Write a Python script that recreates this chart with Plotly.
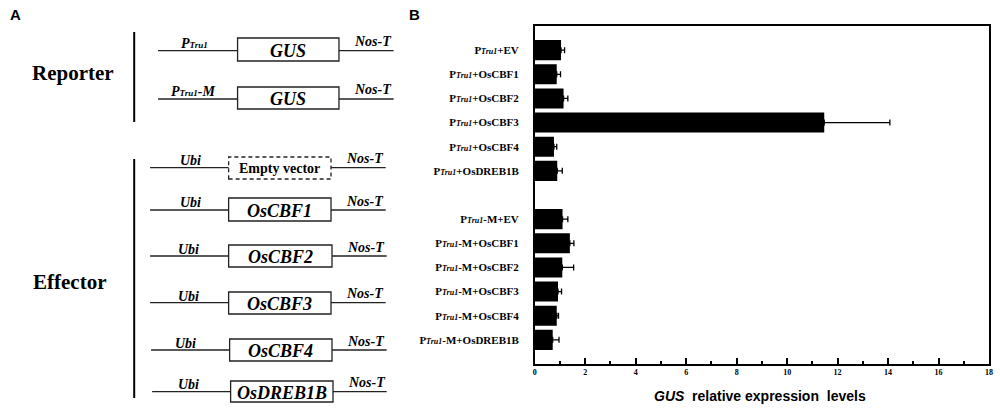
import plotly.graph_objects as go

# ── Panel B data ───────────────────────────────────────────
SUB = "<span style='font-size:8px'><i>Tru1</i></span>"
labels = [
    f"<b>P{SUB}+EV</b>",
    f"<b>P{SUB}+OsCBF1</b>",
    f"<b>P{SUB}+OsCBF2</b>",
    f"<b>P{SUB}+OsCBF3</b>",
    f"<b>P{SUB}+OsCBF4</b>",
    f"<b>P{SUB}+OsDREB1B</b>",
    f"<b>P{SUB}-M+EV</b>",
    f"<b>P{SUB}-M+OsCBF1</b>",
    f"<b>P{SUB}-M+OsCBF2</b>",
    f"<b>P{SUB}-M+OsCBF3</b>",
    f"<b>P{SUB}-M+OsCBF4</b>",
    f"<b>P{SUB}-M+OsDREB1B</b>",
]
# row slots (one empty slot between the two promoter groups)
slots = [1, 2, 3, 4, 5, 6, 8, 9, 10, 11, 12, 13]
values = [1.04, 0.87, 1.14, 11.47, 0.76, 0.89, 1.10, 1.39, 1.09, 0.92, 0.87, 0.71]
errors = [0.14, 0.15, 0.17, 2.60, 0.11, 0.20, 0.21, 0.16, 0.45, 0.14, 0.07, 0.25]
x_ticks = list(range(0, 19, 2))

# ── Panel A constructs ─────────────────────────────────────
W, H = 1000, 410
SERIF = "Liberation Serif"


def px(x):
    return x / W


def py(y):
    return 1 - y / H


# (line y, line start, box x0, box x1, box y0, box y1, line end, promoter, promoter pos, gene, dashed)
constructs = [
    (50.7, 157, 237, 339, 38, 61, 394, "P<span style='font-size:9px'>Tru1</span>", (194, 44), "GUS", False),
    (99, 157, 237, 339, 87, 109, 394, "P<span style='font-size:9px'>Tru1</span>-M", (192, 92), "GUS", False),
    (167.7, 149, 228, 331, 157, 179, 386, "Ubi", (190, 160), "Empty vector", True),
    (210, 149, 228, 331, 198, 221, 386, "Ubi", (190, 202), "OsCBF1", False),
    (256, 149, 228, 332, 245, 267, 387, "Ubi", (188, 249), "OsCBF2", False),
    (302.7, 149, 228, 331, 292, 314, 386, "Ubi", (188, 296), "OsCBF3", False),
    (350, 150, 229, 332, 339, 361, 387, "Ubi", (185, 343), "OsCBF4", False),
    (391.7, 151, 230, 333, 381, 402, 387, "Ubi", (188, 384), "OsDREB1B", False),
]

fig = go.Figure()
fig.add_trace(go.Bar(
    x=values,
    y=slots,
    orientation="h",
    width=0.83,
    marker=dict(color="black", line=dict(width=0)),
    error_x=dict(type="data", array=errors, arrayminus=[0] * len(errors),
                 symmetric=False, color="black", thickness=1.3, width=3),
    showlegend=False,
))

shapes = []
annotations = []
line_col = "#222222"


def note(x, y, text, size, family=SERIF):
    annotations.append(dict(xref="paper", yref="paper", x=px(x), y=py(y), text=text,
                            showarrow=False, xanchor="center", yanchor="middle",
                            font=dict(family=family, size=size, color="black")))


# bracket lines
shapes.append(dict(type="line", xref="paper", yref="paper", x0=px(133), x1=px(133),
                   y0=py(32), y1=py(122), line=dict(color="black", width=2)))
shapes.append(dict(type="line", xref="paper", yref="paper", x0=px(133), x1=px(133),
                   y0=py(159), y1=py(398), line=dict(color="black", width=2)))

for (ly, xs, bx0, bx1, by0, by1, xe, prom, ppos, gene, dashed) in constructs:
    shapes.append(dict(type="line", xref="paper", yref="paper", x0=px(xs), x1=px(bx0),
                       y0=py(ly), y1=py(ly), line=dict(color=line_col, width=1.3)))
    shapes.append(dict(type="line", xref="paper", yref="paper", x0=px(bx1), x1=px(xe),
                       y0=py(ly), y1=py(ly), line=dict(color=line_col, width=1.3)))
    shapes.append(dict(type="rect", xref="paper", yref="paper", x0=px(bx0), x1=px(bx1),
                       y0=py(by1), y1=py(by0),
                       line=dict(color=line_col, width=1.3, dash="4px,3px" if dashed else "solid")))
    note(ppos[0], ppos[1], f"<b><i>{prom}</i></b>", 14)
    note((bx1 + xe) / 2 + 7, ly - 9, "<b><i>Nos-T</i></b>", 14)
    gtxt = f"<b>{gene}</b>" if dashed else f"<b><i>{gene}</i></b>"
    note((bx0 + bx1) / 2, (by0 + by1) / 2 + 1, gtxt, 14 if dashed else 18)

note(71, 73, "<b>Reporter</b>", 21)
note(68, 282, "<b>Effector</b>", 21)
note(14, 14, "<b>A</b>", 15, "Liberation Sans")
note(415, 14, "<b>B</b>", 15, "Liberation Sans")
note(763, 396, "<b><i>GUS</i>  relative expression  levels</b>", 14, "Liberation Sans")

fig.update_layout(
    width=W, height=H,
    margin=dict(l=0, r=0, t=0, b=0),
    paper_bgcolor="white",
    plot_bgcolor="white",
    shapes=shapes,
    annotations=annotations,
    xaxis=dict(
        domain=[px(536), px(993)],
        range=[0, 18],
        tickvals=x_ticks,
        ticks="inside", ticklen=6, tickwidth=1.5, tickcolor="black",
        minor=dict(dtick=1, ticks="inside", ticklen=3, tickwidth=1.5, tickcolor="black"),
        showgrid=False, zeroline=False,
        showline=True, linecolor="black", linewidth=1.5, mirror=True,
        tickfont=dict(family=SERIF, size=8, color="black", weight="bold"),
    ),
    yaxis=dict(
        domain=[py(364), py(26)],
        range=[14, 0],
        tickvals=slots,
        ticktext=labels,
        ticks="", ticklabelstandoff=12,
        showgrid=False, zeroline=False,
        showline=True, linecolor="black", linewidth=1.5, mirror=True,
        tickfont=dict(family=SERIF, size=11, color="black"),
    ),
)

fig.write_html("out.html", config={"displayModeBar": False},
               post_script="document.body.style.margin='0';")
